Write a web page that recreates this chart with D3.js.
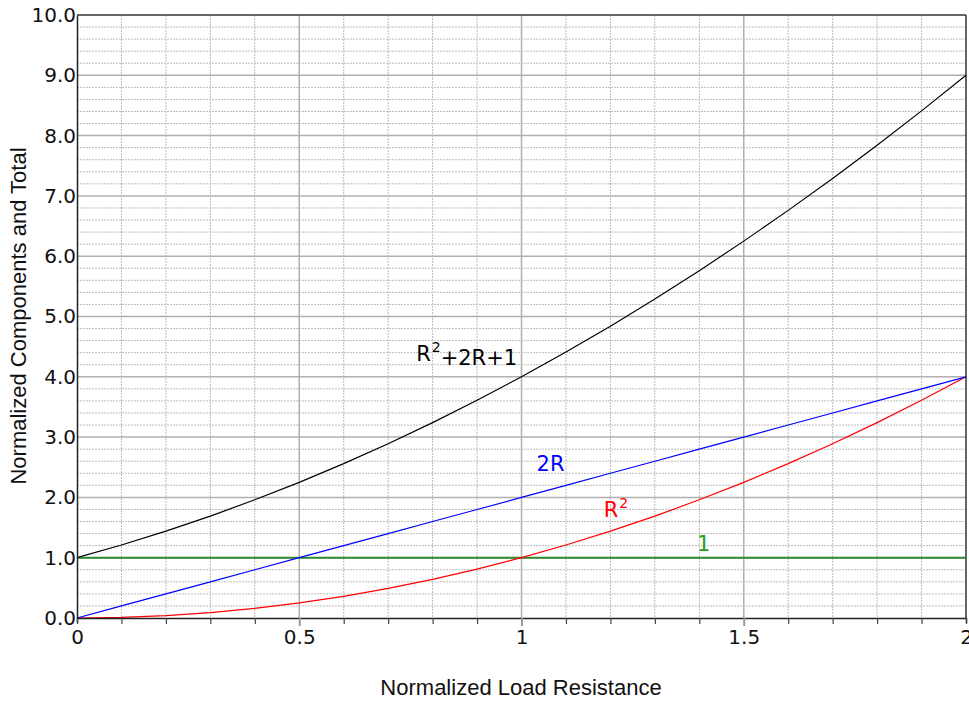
<!DOCTYPE html>
<html lang="en">
<head>
<meta charset="UTF-8">
<title>Normalized Components</title>
<script src="https://cdn.jsdelivr.net/npm/d3@7/dist/d3.min.js"></script>
<style>
    body { margin: 0; background: #fff; }
    svg { display: block; }
</style>
</head>
<body>
<script>

    // load resistance samples (0.1 steps)
    var rValues = [0, 0.1, 0.2, 0.3, 0.4, 0.5, 0.6, 0.7, 0.8, 0.9, 1.0,
                   1.1, 1.2, 1.3, 1.4, 1.5, 1.6, 1.7, 1.8, 1.9, 2.0];
    var totalValues = [1.00, 1.21, 1.44, 1.69, 1.96, 2.25, 2.56, 2.89, 3.24, 3.61, 4.00,
                       4.41, 4.84, 5.29, 5.76, 6.25, 6.76, 7.29, 7.84, 8.41, 9.00];
    var twoRValues = [0.0, 0.2, 0.4, 0.6, 0.8, 1.0, 1.2, 1.4, 1.6, 1.8, 2.0,
                      2.2, 2.4, 2.6, 2.8, 3.0, 3.2, 3.4, 3.6, 3.8, 4.0];
    var rSqValues = [0.00, 0.01, 0.04, 0.09, 0.16, 0.25, 0.36, 0.49, 0.64, 0.81, 1.00,
                     1.21, 1.44, 1.69, 1.96, 2.25, 2.56, 2.89, 3.24, 3.61, 4.00];
    var oneValues = [1, 1, 1, 1, 1, 1, 1, 1, 1, 1, 1, 1, 1, 1, 1, 1, 1, 1, 1, 1, 1];

    var xTickLabels = [0, 0.5, 1, 1.5, 2];
    var yTickLabels = [0, 1, 2, 3, 4, 5, 6, 7, 8, 9, 10];

    drawChart();

    function drawChart(){

        var width = 969, height = 702;
        var pLeft = 77, pRight = 966, pTop = 15, pBottom = 618;

        var svg = d3.select("body").append("svg")
            .attr("width", width)
            .attr("height", height);

        var x = d3.scaleLinear().domain([0, 2]).range([pLeft, pRight]);
        var y = d3.scaleLinear().domain([0, 10]).range([pBottom, pTop]);

        var isMajorX = function(d){ return Math.round(d * 10) % 5 == 0; };

        //grid
        var gGrid = svg.append("g");
        var xMinor = d3.range(1, 20).map(function(i){ return i / 10; });
        var yMinor = d3.range(1, 50).map(function(i){ return i / 5; });

        gGrid.selectAll(".vminor")
            .data(xMinor.filter(function(d){ return !isMajorX(d); }))
            .enter().append("line")
            .attr("x1", function(d){ return x(d); })
            .attr("x2", function(d){ return x(d); })
            .attr("y1", pTop).attr("y2", pBottom)
            .style("stroke", "#bcbcbc")
            .style("stroke-width", 1)
            .style("stroke-dasharray", "2,1");

        gGrid.selectAll(".hminor")
            .data(yMinor.filter(function(d){ return Math.round(d * 5) % 5 != 0; }))
            .enter().append("line")
            .attr("x1", pLeft).attr("x2", pRight)
            .attr("y1", function(d){ return y(d); })
            .attr("y2", function(d){ return y(d); })
            .style("stroke", "#bcbcbc")
            .style("stroke-width", 1)
            .style("stroke-dasharray", "2,1");

        gGrid.selectAll(".vmajor")
            .data([0.5, 1, 1.5])
            .enter().append("line")
            .attr("x1", function(d){ return x(d); })
            .attr("x2", function(d){ return x(d); })
            .attr("y1", pTop).attr("y2", pBottom)
            .style("stroke", "#b0b0b0")
            .style("stroke-width", 1.5);

        gGrid.selectAll(".hmajor")
            .data(d3.range(1, 10))
            .enter().append("line")
            .attr("x1", pLeft).attr("x2", pRight)
            .attr("y1", function(d){ return y(d); })
            .attr("y2", function(d){ return y(d); })
            .style("stroke", "#b0b0b0")
            .style("stroke-width", 1.5);

        // frame top + right
        svg.append("line")
            .attr("x1", pLeft).attr("x2", pRight)
            .attr("y1", pTop).attr("y2", pTop)
            .style("stroke", "#333").style("stroke-width", 1.5);
        svg.append("line")
            .attr("x1", pRight).attr("x2", pRight)
            .attr("y1", pTop).attr("y2", pBottom)
            .style("stroke", "#333").style("stroke-width", 1.5);

        //lines
        var series = [
            { values: oneValues, color: "#2e8b2e", w: 2 },
            { values: rSqValues, color: "#ff0000", w: 1.2 },
            { values: twoRValues, color: "#0000ff", w: 1.2 },
            { values: totalValues, color: "#000000", w: 1.2 }
        ];
        var line = d3.line()
            .x(function(d, i){ return x(rValues[i]); })
            .y(function(d){ return y(d); });

        svg.append("g").selectAll("path")
            .data(series)
            .enter().append("path")
            .attr("d", function(d){ return line(d.values); })
            .style("fill", "none")
            .style("stroke", function(d){ return d.color; })
            .style("stroke-width", function(d){ return d.w; });

        //Axis
        var xAxis = d3.axisBottom(x)
            .tickValues(d3.range(0, 21).map(function(i){ return i / 10; }))
            .tickSize(5)
            .tickFormat(function(d){
                return isMajorX(d) && xTickLabels.indexOf(d) >= 0 ? d3.format("")(d) : "";
            });
        var gx = svg.append("g")
            .attr("transform", "translate(0," + pBottom + ")")
            .call(xAxis);
        gx.select(".domain").style("stroke", "#222").style("stroke-width", 1.5);
        var inner = function(d){ return isMajorX(d) && d > 0 && d < 2; };
        gx.selectAll(".tick line")
            .style("stroke", function(d){ return inner(d) ? "#999" : "#444"; })
            .style("stroke-width", function(d){ return inner(d) ? 2 : 1.2; })
            .attr("y2", function(d){ return inner(d) ? 8 : 6; });
        gx.selectAll(".tick text")
            .attr("dy", "0.71em")
            .attr("y", 12)
            .style("font-family", "DejaVu Sans")
            .style("font-size", "20px")
            .style("fill", "#111");

        var yAxis = d3.axisLeft(y)
            .tickValues(yTickLabels)
            .tickSize(0)
            .tickPadding(1)
            .tickFormat(d3.format(".1f"));
        var gy = svg.append("g")
            .attr("transform", "translate(" + pLeft + ",0)")
            .call(yAxis);
        gy.select(".domain").style("stroke", "#222").style("stroke-width", 1.5);
        gy.selectAll(".tick text")
            .style("font-family", "DejaVu Sans")
            .style("font-size", "20px")
            .style("fill", "#111");

        // axis titles
        svg.append("text")
            .attr("x", 521).attr("y", 695)
            .attr("text-anchor", "middle")
            .style("font-family", "Liberation Sans, Arial")
            .style("font-size", "22px")
            .style("fill", "#111")
            .text("Normalized Load Resistance");
        svg.append("text")
            .attr("transform", "translate(26,316) rotate(-90)")
            .attr("text-anchor", "middle")
            .style("font-family", "Liberation Sans, Arial")
            .style("font-size", "22px")
            .style("fill", "#111")
            .text("Normalized Components and Total");

        // curve labels
        var labels = [
            { parts: ["R", "2", "+2R+1"], rx: 0.763, vy: 4.39, color: "#000" },
            { parts: ["2R"], rx: 1.034, vy: 2.56, color: "#0000ff" },
            { parts: ["R", "2"], rx: 1.185, vy: 1.8, color: "#ff0000" },
            { parts: ["1"], rx: 1.395, vy: 1.23, color: "#22a022" }
        ];
        labels.forEach(function(l){
            var t = svg.append("text")
                .attr("x", x(l.rx))
                .attr("y", y(l.vy))
                .attr("dy", "0.35em")
                .style("font-family", "DejaVu Sans")
                .style("font-size", "21px")
                .style("fill", l.color);
            t.append("tspan").text(l.parts[0]);
            if (l.parts.length > 1) {
                t.append("tspan")
                    .attr("dy", "-0.6em")
                    .attr("dx", "1")
                    .style("font-size", "14px")
                    .text(l.parts[1]);
                if (l.parts.length > 2) {
                    t.append("tspan")
                        .attr("dy", "0.6em")
                        .text(l.parts[2]);
                }
            }
        });
    }

</script>
</body>
</html>
